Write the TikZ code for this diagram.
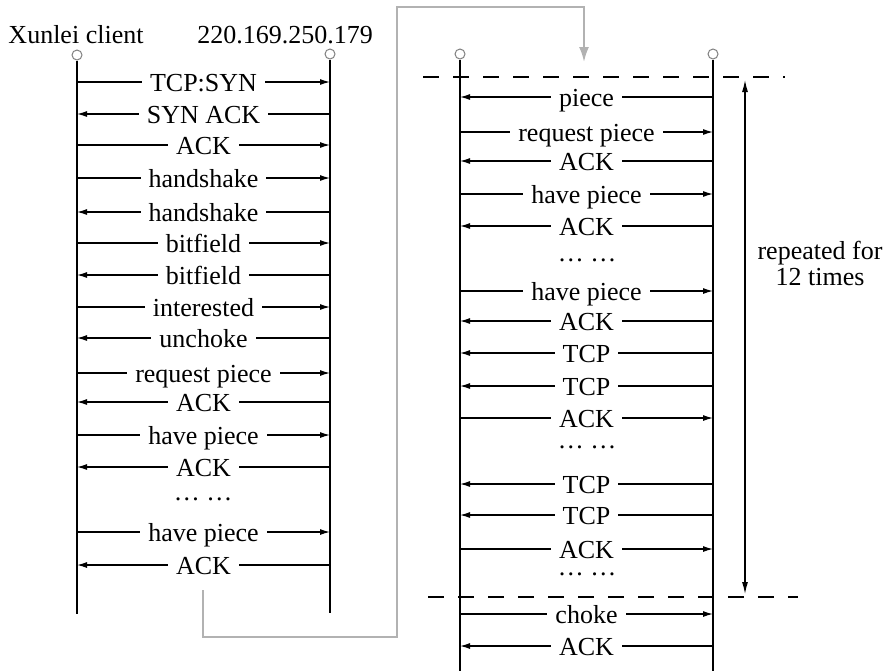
\documentclass[tikz,border=0pt]{standalone}
\usepackage{fontspec}
\setmainfont{Liberation Serif}
\usetikzlibrary{arrows.meta}

\tikzset{
  peer/.style={circle,draw=gray,line width=0.5pt,fill=white,inner sep=0pt,minimum size=5pt},
  life/.style={line width=0.8pt},
  msg/.style={line width=0.6pt},
  tosrv/.style={msg,-{Latex[length=5pt,width=3pt]}},
  tocli/.style={msg,{Latex[length=5pt,width=3pt]}-},
  lbl/.style={fill=white,inner xsep=4pt,inner ysep=0pt,anchor=base,yshift=-4.5pt},
  gap/.style={anchor=base,inner sep=0pt,text height=2pt,text depth=0pt},
  txt/.style={font=\fontsize{13}{13}\selectfont},
  sep/.style={line width=0.6pt,dash pattern=on 8pt off 7pt},
  link/.style={gray!60,line width=1pt,-{Latex[length=7.5pt,width=5pt]}}
}

\begin{document}
\begin{tikzpicture}[x=0.5pt,y=-0.5pt,every node/.style={txt}]
\useasboundingbox (0,0) rectangle (886,671);

%peers, first trace
\node[peer] (cli) at (77,55) {};
\node[peer] (srv) at (330,54) {};
\node[anchor=base] (cliname) at (76,43) {Xunlei client};
\node[anchor=base] (srvname) at (285,43) {220.169.250.179};
\draw[life] (cli) -- (cli |- 0,614);
\draw[life] (srv) -- (srv |- 0,613);

%messages, first trace
\foreach \y/\t/\d in {82/TCP:SYN/tosrv, 114/SYN ACK/tocli, 145/ACK/tosrv,
    178/handshake/tosrv, 212/handshake/tocli, 243/bitfield/tosrv,
    275/bitfield/tocli, 307/interested/tosrv, 338/unchoke/tocli,
    373/request piece/tosrv, 402/ACK/tocli, 435/have piece/tosrv,
    467/ACK/tocli, 532/have piece/tosrv, 565/ACK/tocli}
  \draw[\d] (cli |- 0,\y) -- node[lbl]{\t} (srv |- 0,\y);
\node[gap] (dotsA) at (203,500) {\ldots\ \ldots};

%peers, second trace
\node[peer] (cli2) at (460,54) {};
\node[peer] (srv2) at (713,54) {};
\draw[life] (cli2) -- (cli2 |- 0,671);
\draw[life] (srv2) -- (srv2 |- 0,671);

%messages, second trace
\foreach \y/\t/\d in {97/piece/tocli, 132/request piece/tosrv, 161/ACK/tocli,
    194/have piece/tosrv, 226/ACK/tocli, 291/have piece/tosrv,
    321/ACK/tocli, 353/TCP/tocli, 386/TCP/tocli, 418/ACK/tosrv,
    484/TCP/tocli, 515/TCP/tocli, 549/ACK/tosrv,
    614/choke/tosrv, 646/ACK/tocli}
  \draw[\d] (cli2 |- 0,\y) -- node[lbl]{\t} (srv2 |- 0,\y);
\foreach \y [count=\i] in {261,448,575}
  \node[gap] (dotsB\i) at (587,\y) {\ldots\ \ldots};

%repeat block
\draw[sep] (423,77) -- (785,77);
\draw[sep] (428,597) -- (798,597);
\coordinate (reptop) at (745,80);
\coordinate (repbot) at (745,594);
\draw[msg,{Latex[length=6pt,width=3pt]}-{Latex[length=6pt,width=3pt]}] (reptop) -- (repbot);
\node[align=center] (reptxt) at (820,263) {repeated for\\12 times};

%link between traces
\coordinate (out) at (203,590);
\coordinate (in) at (584,62);
\coordinate (bend) at (397,7);
\draw[link] (out) |- (bend |- 0,637) -- (bend) -| (in);

\end{tikzpicture}
\end{document}
